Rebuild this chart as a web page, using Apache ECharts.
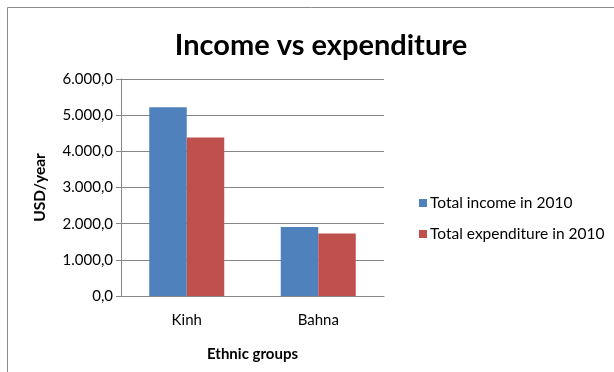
<!DOCTYPE html>
<html>
<head>
<meta charset="utf-8">
<script src="https://cdn.jsdelivr.net/npm/echarts@6/dist/echarts.min.js"></script>
<style>
  html, body { margin: 0; padding: 0; background: #fff; }
  #main { width: 614px; height: 372px; }
</style>
</head>
<body>
<div id="main"></div>
<script>
// data
var groups = ['Kinh', 'Bahna'];
var incomeValues = [5220, 1910];
var expenditureValues = [4380, 1730];
var seriesNames = ['Total income in 2010', 'Total expenditure in 2010'];

var FONT = 'Lato';

// 6000 -> "6.000,0"
function fmt(v) {
  var s = Math.round(v).toString();
  s = s.replace(/\B(?=(\d{3})+(?!\d))/g, '.');
  return s + ',0';
}

var myChart = echarts.init(document.getElementById('main'));

var option = {
  backgroundColor: '#fff',
  animation: false,
  title: {
    text: 'Income vs expenditure',
    left: 316,
    textAlign: 'center',
    top: 26,
    textStyle: { fontFamily: FONT, fontSize: 29, fontWeight: 'bold', color: '#000' }
  },
  graphic: [
    {
      type: 'rect',
      shape: { x: 7.5, y: 7.5, width: 620, height: 380 },
      style: { fill: 'none', stroke: '#8c8c8c', lineWidth: 1 },
      silent: true
    }
  ],
  legend: {
    orient: 'vertical',
    left: 414,
    top: 190,
    itemWidth: 8,
    itemHeight: 8,
    itemGap: 15,
    icon: 'rect',
    textStyle: { fontFamily: FONT, fontSize: 15.5, color: '#000', padding: [0, 0, 0, -2] },
    data: seriesNames
  },
  grid: { left: 121, right: 230, top: 79, bottom: 76 },
  xAxis: {
    type: 'category',
    data: groups,
    axisTick: { show: false },
    axisLine: { lineStyle: { color: '#868686', width: 1 } },
    axisLabel: { fontFamily: FONT, fontSize: 15, color: '#000', margin: 17 },
    name: 'Ethnic groups',
    nameLocation: 'middle',
    nameGap: 51,
    nameTextStyle: { fontFamily: FONT, fontSize: 15, fontWeight: 'bold', color: '#000' }
  },
  yAxis: {
    type: 'value',
    min: 0,
    max: 6000,
    interval: 1000,
    axisLine: { show: true, lineStyle: { color: '#868686', width: 1 } },
    axisTick: { show: true, length: 5, lineStyle: { color: '#868686' } },
    splitLine: { lineStyle: { color: '#868686', width: 1 } },
    axisLabel: { fontFamily: FONT, fontSize: 15, color: '#000', margin: 8, formatter: fmt },
    name: 'USD/year',
    nameLocation: 'middle',
    nameGap: 73,
    nameRotate: 90,
    nameTextStyle: { fontFamily: FONT, fontSize: 15.5, fontWeight: 'bold', color: '#000' }
  },
  series: [
    {
      name: seriesNames[0],
      type: 'bar',
      data: incomeValues,
      barWidth: 37.5,
      barGap: 0,
      itemStyle: { color: '#4F81BD' }
    },
    {
      name: seriesNames[1],
      type: 'bar',
      data: expenditureValues,
      barWidth: 37.5,
      barGap: 0,
      itemStyle: { color: '#C0504D' }
    }
  ]
};

myChart.setOption(option);
</script>
</body>
</html>
